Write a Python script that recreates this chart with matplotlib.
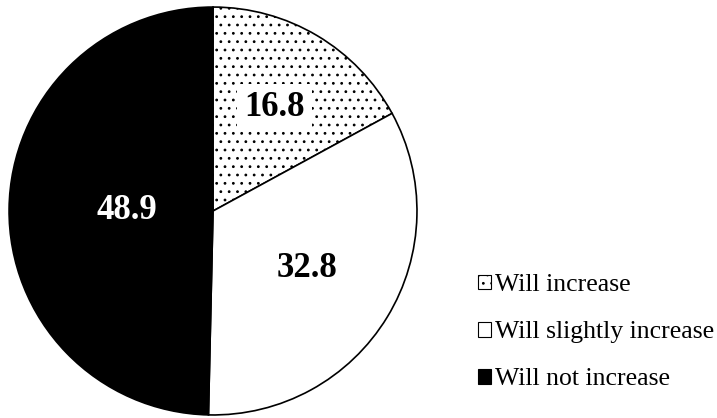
import numpy as np
import matplotlib.pyplot as plt
from matplotlib.patches import Patch

plt.rcParams['font.family'] = ['Liberation Serif', 'DejaVu Serif']
plt.rcParams['hatch.linewidth'] = 0.8
plt.rcParams['hatch.color'] = '#333333'

labels = ['Will increase', 'Will slightly increase', 'Will not increase']
values = [16.8, 32.8, 48.9]
colors = ['white', 'white', 'black']
hatches = ['..', '', '']
text_colors = ['black', 'black', 'white']
label_radius = [0.59, 0.54, 0.42]

fig = plt.figure(figsize=(7.17, 4.18), dpi=100)
ax = fig.add_axes([0.0098, 0.0024, 0.5746, 0.9856])

wedges, _ = ax.pie(values, colors=colors, startangle=90, counterclock=False,
                   wedgeprops=dict(edgecolor='black', linewidth=1.2))
for w, h in zip(wedges, hatches):
    w.set_hatch(h)

# value labels at each wedge's mid angle
for w, v, tc, r in zip(wedges, values, text_colors, label_radius):
    ang = np.deg2rad((w.theta1 + w.theta2) / 2)
    bbox = dict(facecolor='white', edgecolor='none', pad=5) if w.get_hatch() else None
    ax.text(r * np.cos(ang), r * np.sin(ang), f'{v:.1f}', ha='center', va='center',
            fontsize=25, fontweight='bold', color=tc, bbox=bbox)

ax.set_xlim(-1.01, 1.01)
ax.set_ylim(-1.01, 1.01)
ax.set_aspect('equal')
ax.axis('off')

handles = [Patch(facecolor=c, edgecolor='black', hatch=h, linewidth=0.8)
           for c, h in zip(colors, hatches)]
fig.legend(handles, labels, loc='center left', bbox_to_anchor=(0.6667, 0.205),
           frameon=False, fontsize=18.5, handlelength=0.5, handleheight=0.5,
           handletextpad=0.18, labelspacing=0.98, borderpad=0, borderaxespad=0)

fig.savefig('out.png', dpi=100)
